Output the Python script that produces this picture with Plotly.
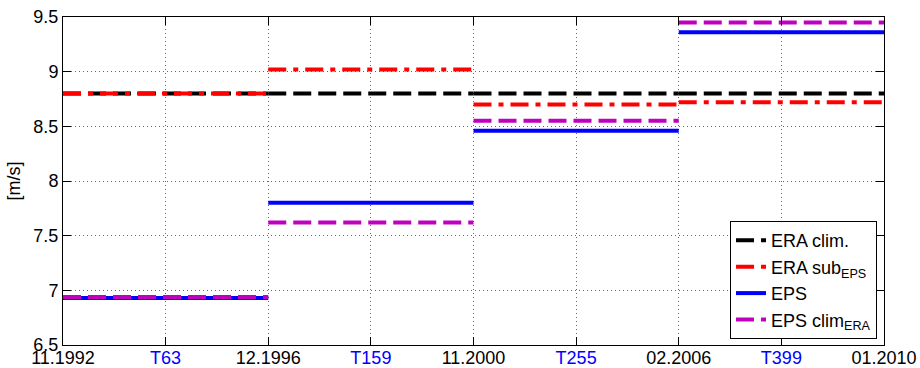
import plotly.graph_objects as go

# positions of the period boundaries (index 0..8 along the axis)
tick_pos = [0, 1, 2, 3, 4, 5, 6, 7, 8]
tick_labels = ["11.1992", "T63", "12.1996", "T159", "11.2000", "T255", "02.2006", "T399", "01.2010"]
period_start = [0, 2, 4, 6]
period_end = [2, 4, 6, 8]

era_clim = [8.80, 8.80, 8.80, 8.80]
era_sub_eps = [8.80, 9.02, 8.70, 8.72]
eps = [6.93, 7.80, 8.46, 9.36]
eps_clim_era = [6.94, 7.62, 8.55, 9.45]


def segs(vals):
    xs, ys = [], []
    for s, e, v in zip(period_start, period_end, vals):
        xs += [s, e, None]
        ys += [v, v, None]
    return xs, ys


series = [
    ("ERA clim.", era_clim, "black", "18px,7px"),
    ("ERA sub<sub>EPS</sub>", era_sub_eps, "#FF0000", "18px,7px,5px,7px"),
    ("EPS", eps, "#0000FF", "solid"),
    ("EPS clim<sub>ERA</sub>", eps_clim_era, "#BF00BF", "18px,7px"),
]

fig = go.Figure()
for name, vals, col, dash in series:
    xs, ys = segs(vals)
    fig.add_trace(go.Scatter(x=xs, y=ys, mode="lines", name=name,
                             line=dict(color=col, width=4, dash=dash)))

ticktext = [f"<span style='color:#0000FF'>{t}</span>" if t.startswith("T") else t
            for t in tick_labels]

font = dict(family="Liberation Sans, Arial, Helvetica, sans-serif", size=18, color="black")

fig.update_layout(
    width=920, height=368,
    margin=dict(l=63, r=36, t=17, b=23),
    plot_bgcolor="white", paper_bgcolor="white",
    font=font,
    showlegend=True,
    legend=dict(x=0.9915, y=0.018, xanchor="right", yanchor="bottom",
                bordercolor="black", borderwidth=1, bgcolor="white",
                font=dict(size=18), itemwidth=30, tracegroupgap=0),
    xaxis=dict(range=[0, 8], tickmode="array", tickvals=tick_pos, ticktext=ticktext,
               showgrid=True, gridcolor="#666666", griddash="1px,3px", gridwidth=1,
               showline=True, linecolor="black", linewidth=1, mirror="ticks",
               ticks="inside", ticklen=8, tickcolor="black", zeroline=False,
               tickfont=font, automargin=False, ticklabelstandoff=-4),
    yaxis=dict(range=[6.5, 9.5], dtick=0.5, tick0=6.5,
               showgrid=True, gridcolor="#666666", griddash="1px,3px", gridwidth=1,
               showline=True, linecolor="black", linewidth=1, mirror="ticks",
               ticks="inside", ticklen=8, tickcolor="black", zeroline=False,
               title=dict(text="[m/s]", font=font, standoff=8),
               tickfont=font, automargin=False),
)

fig.write_html("out.html")
